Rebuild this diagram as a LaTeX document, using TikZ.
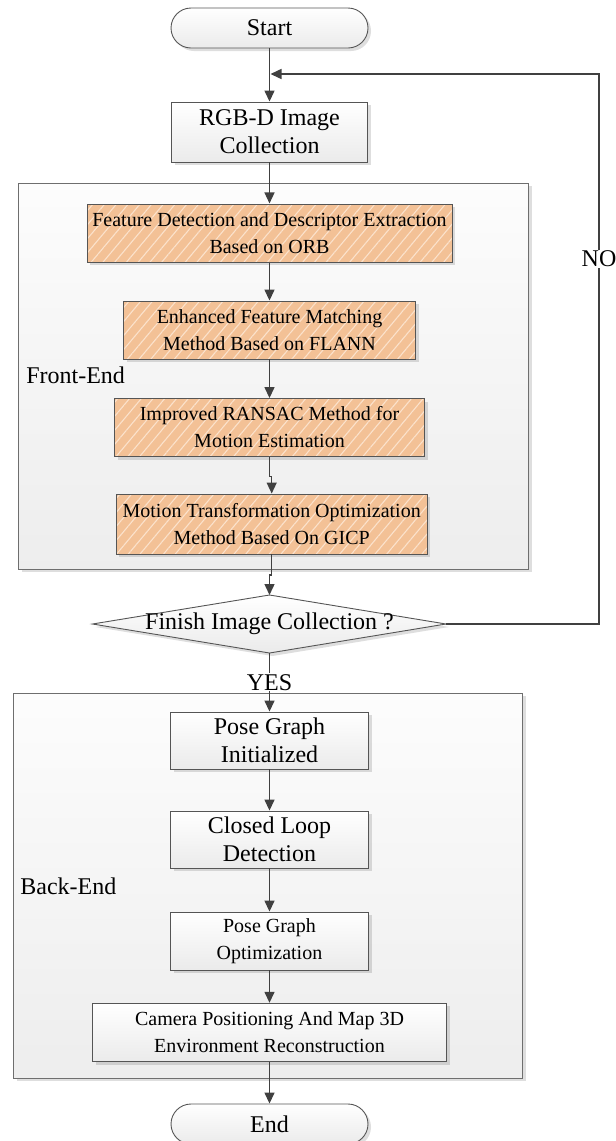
\documentclass[tikz,border=0pt]{standalone}
\usepackage{fontspec}
\setmainfont{Liberation Serif}
\usetikzlibrary{arrows.meta,shadows,patterns.meta}
\definecolor{boxline}{HTML}{555555}
\definecolor{arrowc}{HTML}{404040}
\definecolor{contline}{HTML}{6E6E6E}
\definecolor{peach}{HTML}{F3C196}
\definecolor{stripe}{HTML}{FBE2CC}
\begin{document}
\begin{tikzpicture}[x=1pt,y=1pt,
 big/.style={font=\fontsize{24}{28}\selectfont},
 small/.style={font=\fontsize{20}{27}\selectfont},
 shad/.style={drop shadow={shadow xshift=3pt,shadow yshift=-3pt,fill=black,opacity=0.13}},
 graybox/.style={shad,draw=boxline,line width=0.9pt,top color=white,bottom color=black!8,align=center,inner sep=0pt},
 orangebox/.style={shad,preaction={fill=peach},draw=boxline,line width=0.9pt,pattern={Lines[angle=50,distance=9pt,line width=1.1pt]},pattern color=stripe,align=center,inner sep=0pt,small},
 term/.style={graybox,rounded corners=20pt,big},
 cont/.style={shad,draw=contline,line width=0.9pt,top color=black!1,bottom color=black!7},
 wire/.style={draw=arrowc,line width=1.4pt},
 conn/.style={wire,-{Triangle[length=11pt,width=10pt]}},
 lbl/.style={big,fill=white,inner sep=1pt}
]
\useasboundingbox (0,0) rectangle (616,-1141);
% containers
\node[cont,minimum width=510pt,minimum height=386pt] (front) at (273.5,-376) {};
\node[cont,minimum width=509pt,minimum height=385pt] (back) at (268.2,-885.7) {};
\node[big] (frontlbl) at (75.6,-375.6) {Front-End};
\node[big] (backlbl) at (68.4,-886) {Back-End};
% nodes
\node[term,minimum width=197pt,minimum height=40pt] (start) at (269.5,-28) {Start};
\node[graybox,big,minimum width=196pt,minimum height=60pt] (rgb) at (269.5,-132) {RGB-D Image\\Collection};
\node[orangebox,minimum width=365pt,minimum height=58pt] (feat) at (269.5,-233) {Feature Detection and Descriptor Extraction\\Based on ORB};
\node[orangebox,minimum width=292pt,minimum height=58pt] (enh) at (269.5,-330) {Enhanced Feature Matching\\Method Based on FLANN};
\node[orangebox,minimum width=310pt,minimum height=58pt] (imp) at (269.5,-427.5) {Improved RANSAC Method for\\Motion Estimation};
\node[orangebox,minimum width=311pt,minimum height=60pt] (mot) at (271.7,-524) {Motion Transformation Optimization\\Method Based On GICP};
% diamond
\coordinate (diaN) at (269.5,-595);
\coordinate (diaS) at (269.5,-653);
\coordinate (diaE) at (446,-624);
\coordinate (diaW) at (92.5,-624);
\path[shad,draw=boxline,line width=0.9pt,top color=white,bottom color=black!8] (diaW) -- (diaN) -- (diaE) -- (diaS) -- cycle;
\node[big] (dia) at (269.5,-624) {Finish Image Collection ?};
% back-end nodes
\node[graybox,big,minimum width=198pt,minimum height=57pt] (pgi) at (269.5,-740.5) {Pose Graph\\Initialized};
\node[graybox,big,minimum width=198pt,minimum height=57pt] (cld) at (269.5,-839.5) {Closed Loop\\Detection};
\node[graybox,small,minimum width=198pt,minimum height=58pt] (pgo) at (269.5,-941) {Pose Graph\\Optimization};
\node[graybox,small,minimum width=354pt,minimum height=58.5pt] (cam) at (269.5,-1032.5) {Camera Positioning And Map 3D\\Environment Reconstruction};
\node[term,minimum width=197pt,minimum height=40pt] (end) at (269.5,-1124) {End};
% connectors
\draw[conn] (start) -- (rgb);
\draw[conn] (rgb) -- (feat);
\draw[conn] (feat) -- (enh);
\draw[conn] (enh) -- (imp);
\coordinate (j3) at (271.7,-575);
\coordinate (j4) at (269.5,-575);
\draw[conn] (mot.south) -- (j3) -- (j4) -- (diaN);
\draw[conn] (diaS) -- (pgi.north) node[lbl,pos=0.5] (yes) {YES};
\draw[conn] (pgi) -- (cld);
\draw[conn] (cld) -- (pgo);
\draw[conn] (pgo) -- (cam);
\draw[conn] (cam) -- (end);
% loop back
\coordinate (loopc) at (599,-74);
\coordinate (join) at (270.5,-74);
\draw[conn,line width=1.5pt] (diaE) -| (loopc) -- (join);
\node[lbl] (no) at (599,-259) {NO};
\coordinate (j1) at (269.5,-476.5);
\coordinate (j2) at (271.7,-476.5);
\draw[conn] (imp.south) -- (j1) -- (j2) -- (mot.north);
\end{tikzpicture}
\end{document}
